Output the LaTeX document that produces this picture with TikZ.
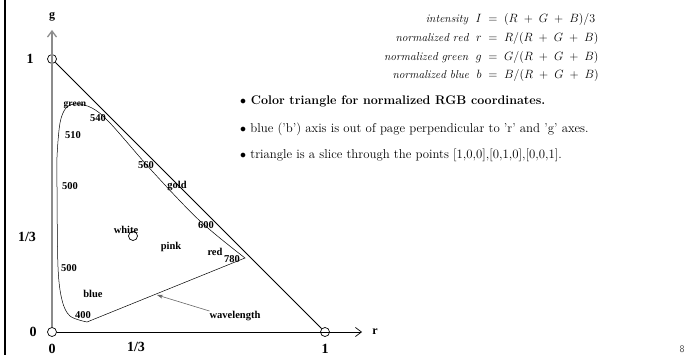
\documentclass[tikz,border=0pt]{standalone}
\usepackage{fontspec}
\newfontfamily\labelfont{Liberation Serif}
\usetikzlibrary{positioning,arrows.meta}

\newcommand{\pl}{\mathbin{\;+\;}}

\begin{document}
\begin{tikzpicture}[
  x=1pt, y=-1pt,
  lbl/.style={font=\labelfont\bfseries\fontsize{10.5}{12}\selectfont, inner sep=0pt},
  axlbl/.style={font=\labelfont\bfseries\fontsize{14}{16}\selectfont, inner sep=0pt},
  corner/.style={circle, draw, line width=0.7pt, minimum size=9pt, inner sep=0pt},
  axis/.style={line width=0.7pt, -{Straight Barb[length=6pt,width=9pt]}},
  locus/.style={line width=0.5pt},
  item/.style={anchor=west, inner sep=0pt},
]
\useasboundingbox (0,0) rectangle (692,355);

% ---- Frame bar on the left ---------------------------------------------------
\draw[line width=2.2pt] (5,0) -- (5,355);

% ---- Corners of the triangle and the axes -------------------------------------
\node[corner] (o)    at (52,332)  {};
\node[corner] (gone) at (52,59)   {};
\node[corner] (rone) at (325,332) {};
\coordinate (gtip) at (52,30);
\coordinate (rtip) at (362,332);

\draw[axis, black!45, line width=1.3pt] (o.north) -- (gtip);
\draw[axis] (o.east) -- (rtip);
\draw[line width=0.8pt] (gone) -- (rone);

\node[axlbl, font=\labelfont\bfseries\fontsize{12}{14}\selectfont] (glbl) at (52,17)  {g};
\node[axlbl, font=\labelfont\bfseries\fontsize{12}{14}\selectfont] (rlbl) at (375,332) {r};

% tick labels
\node[axlbl] (gone-l)   at (30,59)   {1};
\node[axlbl] (gthird-l) at (27,237)  {1/3};
\node[axlbl] (gzero-l)  at (33,332)  {0};
\node[axlbl] (rzero-l)  at (52,349)  {0};
\node[axlbl] (rthird-l) at (136,347) {1/3};
\node[axlbl] (rone-l)   at (325,349) {1};

% ---- Spectral locus -------------------------------------------------------------
\draw[locus] plot[smooth, tension=0.55] coordinates {
  (245,258) (200,221) (153,172) (110,123) (92,108) (76,104) (66,108)
  (60,123) (57,157) (57,187) (58,267) (62,300) (70,316) (87,322)} -- cycle;

% wavelengths and colour names
\node[lbl, font=\labelfont\bfseries\fontsize{9.5}{11}\selectfont] (green) at (75,105) {green};
\node[lbl] (w540)  at (98,118)  {540};
\node[lbl] (w510)  at (73,135)  {510};
\node[lbl] (w560)  at (146,165) {560};
\node[lbl] (w500a) at (70,186)  {500};
\node[lbl] (gold)  at (177,186) {gold};
\node[lbl] (w600)  at (206,225) {600};
\node[lbl] (white) at (126,230) {white};
\node[corner] (wpt) at (133,236) {};
\node[lbl] (pink)  at (171,247) {pink};
\node[lbl] (red)   at (215,252) {red};
\node[lbl] (w780)  at (232,259) {780};
\node[lbl] (w500b) at (69,268)  {500};
\node[lbl] (blue)  at (93,294)  {blue};
\node[lbl] (w400)  at (83,315)  {400};
\node[lbl] (wave)  at (235,316) {wavelength};

\coordinate (wtip) at (157,295);
\draw[black!60, line width=0.6pt, -{Stealth[length=6pt,width=4pt]}] (wave.north west) -- (wtip);

% ---- Definitions ------------------------------------------------------------------
\node[inner sep=0pt, anchor=north east, font=\fontsize{11.5}{13}\selectfont] (eqs) at (599,9)
  {\renewcommand{\arraystretch}{1.45}%
   $\begin{array}{@{}r@{\;\;=\;\;}l@{}}
     \mathit{intensity}\ \ I & (R \pl G \pl B)/3\\
     \mathit{normalized\ red}\ \ r & R/(R \pl G \pl B)\\
     \mathit{normalized\ green}\ \ g & G/(R \pl G \pl B)\\
     \mathit{normalized\ blue}\ \ b & B/(R \pl G \pl B)
   \end{array}$};

% ---- Notes ------------------------------------------------------------------------
\node[item, font=\bfseries\fontsize{12.5}{14}\selectfont] (note1) at (240,101)
  {$\bullet$ Color triangle for normalized RGB coordinates.};
\node[item, font=\fontsize{12.8}{14}\selectfont] (note2) at (240,129)
  {$\bullet$ blue ('b') axis is out of page perpendicular to 'r' and 'g' axes.};
\node[item, font=\fontsize{12.8}{14}\selectfont] (note3) at (240,155)
  {$\bullet$ triangle is a slice through the points [1,0,0],[0,1,0],[0,0,1].};

% page number
\node[font=\sffamily\fontsize{10}{10}\selectfont, text=black!70] (pg) at (682,349) {8};

\end{tikzpicture}
\end{document}
